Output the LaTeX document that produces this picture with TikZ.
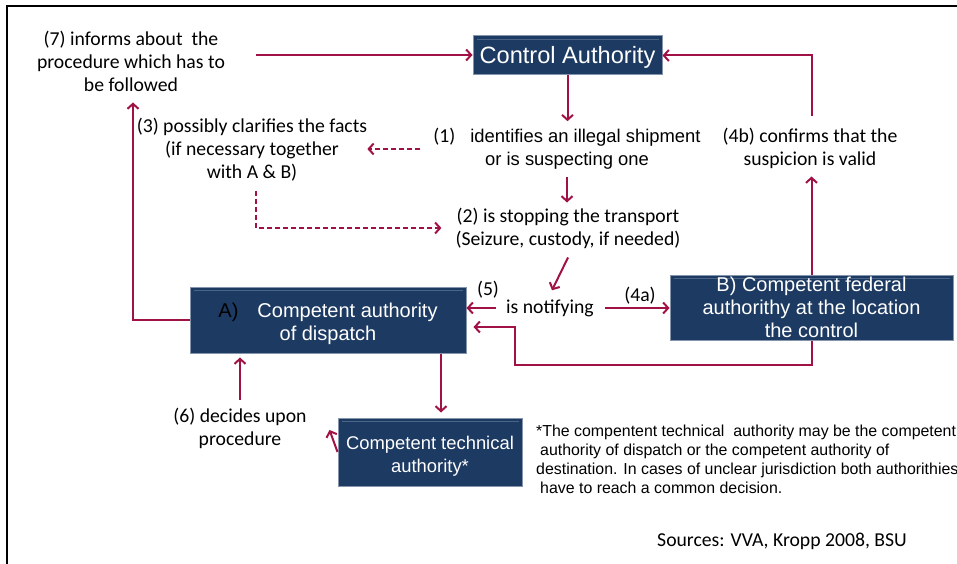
\documentclass[tikz,border=0pt]{standalone}
\usepackage{fontspec}
\setmainfont{Carlito}
\newfontfamily\arialfont{Liberation Sans}
\usetikzlibrary{arrows.meta}

\definecolor{boxblue}{HTML}{1C3A62}
\definecolor{boxedge}{HTML}{8596AC}
\definecolor{boxhigh}{HTML}{4A6488}
\definecolor{flow}{HTML}{A01246}

\tikzset{
  flowline/.style={draw=flow, line width=2pt, -{Straight Barb[length=5pt,width=11pt]}},
  dashflow/.style={flowline, dash pattern=on 5pt off 3pt},
  authbox/.style={fill=boxblue, draw=boxedge, line width=1pt, inner sep=0pt},
  boxtext/.style={inner sep=0pt, text=white, align=center, font=\arialfont\fontsize{20}{23}\selectfont},
  note/.style={inner sep=0pt, align=center, font=\fontsize{19.7}{23}\selectfont},
  highlight/.style={draw=boxhigh, line width=1.2pt},
}

\begin{document}
\begin{tikzpicture}[x=1pt, y=-1pt]
\useasboundingbox (0,0) rectangle (957,564);

% open frame (left and top edges)
\draw[line width=1.5pt] (7,564) -- (7,6) -- (957,6);

% authority boxes
\node[authbox, minimum width=189pt, minimum height=39pt] (ca) at (567.5,55.5) {};
\node[authbox, minimum width=276pt, minimum height=66pt] (A) at (328,320) {};
\node[authbox, minimum width=283pt, minimum height=65pt] (B) at (811.5,307.5) {};
\node[authbox, minimum width=184pt, minimum height=68pt] (tech) at (430,452) {};
\foreach \b in {ca,A,B,tech}
  \draw[highlight] ([xshift=4pt,yshift=-4pt]\b.north west) -- ([xshift=-4pt,yshift=-4pt]\b.north east);

% box captions
\node[boxtext, font=\arialfont\fontsize{23.6}{26}\selectfont] (ca-t) at ([yshift=-2pt]ca.center) {Control Authority};
\node[boxtext] (A-t) at ([yshift=-4pt]A.center)
  {{\color{black}A)}\hspace*{19pt}Competent authority\\of dispatch};
\node[boxtext] (B-t) at (B.center) {B) Competent federal\\authorithy at the location\\the control};
\node[boxtext, font=\arialfont\fontsize{18.4}{23}\selectfont] (tech-t) at ([yshift=-4pt]tech.center)
  {Competent technical\\authority*};

% step texts
\node[note] (t7) at (131,61) {(7) informs about\ \ the\\procedure which has to\\be followed};
\node[note] (t3) at (252,150) {(3) possibly clarifies the facts\\(if necessary together\\with A \& B)};
\node[note] (t1) at (567,149)
  {(1)\hspace*{15pt}{\arialfont\fontsize{18.4}{23}\selectfont identifies an illegal shipment}\\
   {\arialfont\fontsize{18.4}{23}\selectfont or is suspecting one}};
\node[note] (t2) at (568,228) {(2) is stopping the transport\\(Seizure, custody, if needed)};
\node[note] (notif) at (550,308) {is notifying};
\node[note] (l5) at (488,290) {(5)};
\node[note] (l4a) at (640,296) {(4a)};
\node[note] (t4b) at (810,148) {(4b) confirms that the\\suspicion is valid};
\node[note] (t6) at (240,428) {(6) decides upon\\procedure};

% footnote and sources
\node[inner sep=0pt, anchor=west, align=left, font=\arialfont\fontsize{15.9}{19}\selectfont] (foot) at (536,459.5)
  {*The compentent technical\ \ authority may be the competent\\
   \hspace*{4pt}authority of dispatch or the competent authority of\\
   destination. In cases of unclear jurisdiction both authorithies\\
   \hspace*{4pt}have to reach a common decision.};
\node[note] (src) at (782,541) {Sources: VVA, Kropp 2008, BSU};

% connectors
\coordinate (c7) at (256,55);
\draw[flowline] (c7) -- (ca.west |- c7);
\draw[flowline, shorten >=7pt] (ca.south) -- (ca.south |- t1.north);
\draw[dashflow] ([xshift=-13pt]t1.west) -- (t3.east |- t1.west);
\draw[dashflow] ([xshift=4pt,yshift=-9pt]t3.south) |- ([xshift=-14pt]t2.west);
\draw[flowline, shorten <=7pt, shorten >=5pt] (t1.south) -- (t1.south |- t2.north);
\draw[flowline] ([yshift=-9pt]t2.south) -- ([xshift=2pt,yshift=9pt]notif.north);
\draw[flowline] ([xshift=-10pt]notif.west) -- (A.east |- notif.west);
\draw[flowline] ([xshift=11pt]notif.east) -- (B.west |- notif.east);
\draw[flowline, shorten >=8pt] (B.north) -- (B.north |- t4b.south);
\draw[flowline] ([yshift=12pt]t4b.north -| B.north) |- (ca.east);
\coordinate (ret) at (515,327);
\draw[flowline] (B.south) -- ++(0,24) -| (ret) -- ([xshift=7pt]A.east |- ret);
\draw[flowline] (A.west) -| ([xshift=2pt,yshift=-11pt]t7.south);
\draw[flowline] ([xshift=11pt]tech.north |- A.south) -- ([xshift=11pt,yshift=5pt]tech.north);
\draw[flowline] ([yshift=8pt]t6.north) -- ([yshift=-4pt]A.south -| t6.north);
\draw[flowline] (tech.west) -- ++(-8,-22);
\end{tikzpicture}
\end{document}
